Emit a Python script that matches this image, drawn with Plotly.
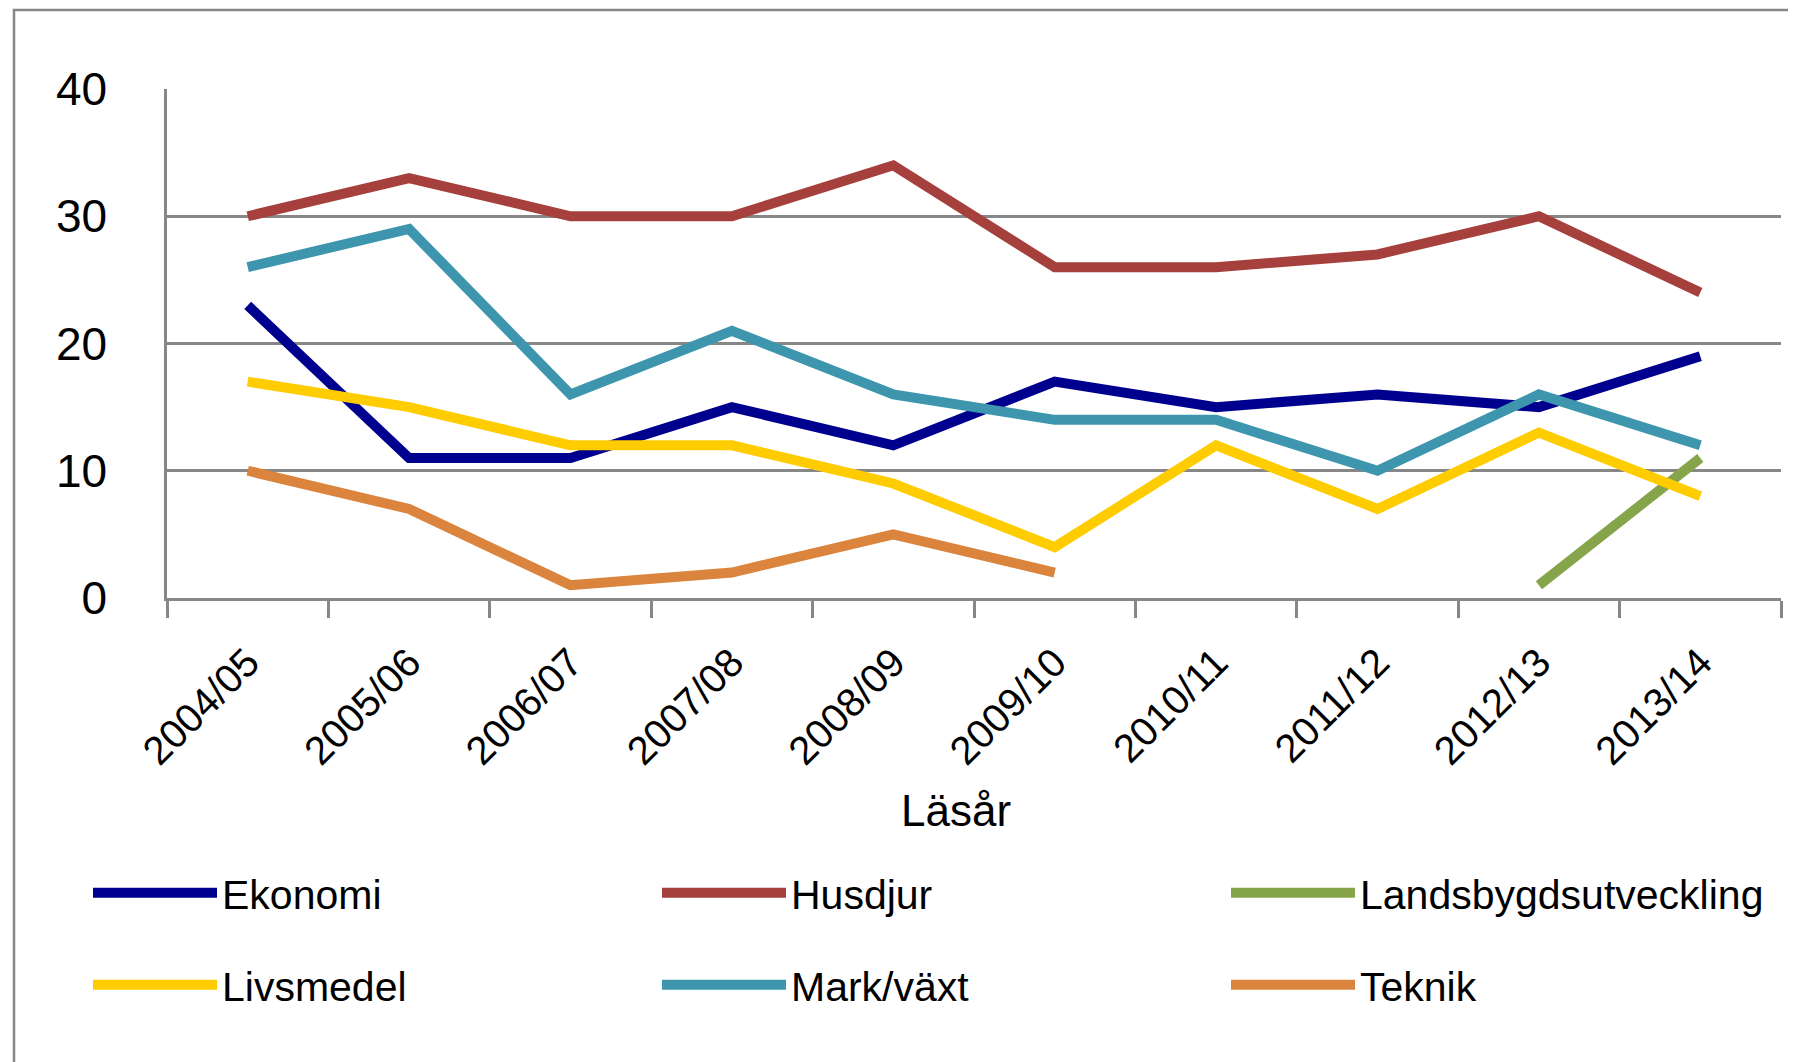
import plotly.graph_objects as go

categories = ["2004/05", "2005/06", "2006/07", "2007/08", "2008/09",
              "2009/10", "2010/11", "2011/12", "2012/13", "2013/14"]
ekonomi = [23, 11, 11, 15, 12, 17, 15, 16, 15, 19]
husdjur = [30, 33, 30, 30, 34, 26, 26, 27, 30, 24]
landsbygd = [None, None, None, None, None, None, None, None, 1, 11]
livsmedel = [17, 15, 12, 12, 9, 4, 12, 7, 13, 8]
mark_vaxt = [26, 29, 16, 21, 16, 14, 14, 10, 16, 12]
teknik = [10, 7, 1, 2, 5, 2, None, None, None, None]

series = [
    ("Ekonomi", ekonomi, "#00008E", "legend"),
    ("Husdjur", husdjur, "#A6403D", "legend"),
    ("Landsbygdsutveckling", landsbygd, "#86A44A", "legend"),
    ("Livsmedel", livsmedel, "#FFCC00", "legend2"),
    ("Mark/växt", mark_vaxt, "#3D96AE", "legend2"),
    ("Teknik", teknik, "#DB843D", "legend2"),
]

FONT = "Liberation Sans, Arial, sans-serif"
GRID = "#878787"

fig = go.Figure()
for name, vals, color, lg in series:
    fig.add_trace(go.Scatter(
        x=categories, y=vals, name=name, mode="lines",
        line=dict(color=color, width=10), connectgaps=False, legend=lg,
    ))

W, H = 1796, 1062
OFF = 8  # page offset of the figure div
# target plot area in page pixels
PL, PR, PT, PB = 167, 1781, 89, 598
L, T = PL - OFF, PT - OFF
R = (W + OFF) - PR
B = (H + OFF) - PB
pw, ph = PR - PL, PB - PT

def px_x(x):
    return (x - PL) / pw

def px_y(y):
    return (PB - y) / ph

legend_common = dict(
    orientation="h", xanchor="left", yanchor="middle",
    entrywidth=430, entrywidthmode="pixels", itemwidth=124,
    font=dict(family=FONT, size=41, color="#000000"),
    bgcolor="rgba(0,0,0,0)", traceorder="normal",
)

fig.update_layout(
    width=W, height=H,
    margin=dict(l=L, r=R, t=T, b=B),
    paper_bgcolor="white", plot_bgcolor="white",
    font=dict(family=FONT, size=40, color="#000000"),
    xaxis=dict(
        type="category", range=[-0.5, 9.5],
        showgrid=False, showline=True, linecolor=GRID, linewidth=2.5,
        ticks="outside", tickson="boundaries", ticklen=17,
        tickcolor=GRID, tickwidth=2.5, tickangle=-45,
        tickfont=dict(family=FONT, size=40, color="#000000"),
        ticklabelstandoff=22,
    ),
    yaxis=dict(
        range=[0, 40], dtick=10, showgrid=True, gridcolor=GRID, gridwidth=2.5,
        showline=True, linecolor=GRID, linewidth=2.5, zeroline=False,
        ticks="", ticklabelstandoff=48,
        tickfont=dict(family=FONT, size=46, color="#000000"),
    ),
    legend=dict(x=px_x(88), y=px_y(893), **legend_common),
    legend2=dict(x=px_x(88), y=px_y(985), **legend_common),
    annotations=[dict(text="Läsår", xref="paper", yref="paper",
                      x=px_x(956), y=px_y(810), xanchor="center", yanchor="middle",
                      showarrow=False,
                      font=dict(family=FONT, size=44, color="#000000"))],
    shapes=[dict(type="rect", xref="paper", yref="paper",
                 x0=px_x(14), x1=px_x(1810), y0=px_y(1080), y1=px_y(10),
                 line=dict(color=GRID, width=2.5), fillcolor="rgba(0,0,0,0)",
                 layer="below")],
)

fig.write_html("out.html")
